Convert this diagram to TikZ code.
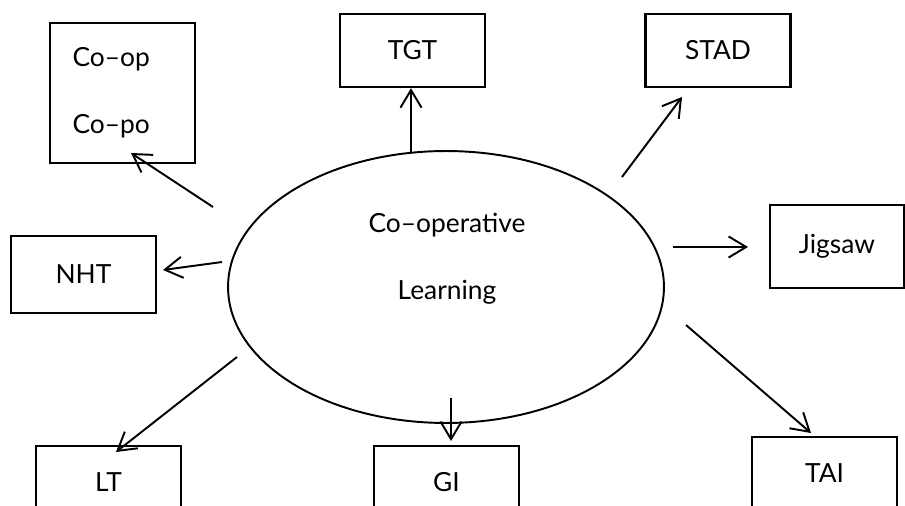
\documentclass[tikz,border=0pt]{standalone}
\usepackage{fontspec}
\setmainfont{Lato}
\usetikzlibrary{arrows.meta, shapes.geometric}

\begin{document}
\begin{tikzpicture}[
        x=0.02cm, y=-0.02cm,
        every node/.style={font=\fontsize{15}{18}\selectfont},
        box/.style={rectangle, draw, line width=1.4pt, minimum width=2.9cm, minimum height=1.46cm, inner sep=0pt, align=center},
        arr/.style={->, line width=1.1pt},
        >={Straight Barb[length=10pt, width=12pt]}
    ]
        \useasboundingbox (0,0) rectangle (905,506);
        \clip (0,0) rectangle (905,506);

        \node[ellipse, draw, line width=1.1pt, minimum width=8.72cm, minimum height=5.44cm, inner sep=0pt] (lrn) at (446,287) {};
        \node[align=center] (lrntxt) at (447,259) {Co–operative\\[20pt]Learning};

        \node[box, minimum height=2.8cm, text width=2cm, align=left] (copo) at (122.5,93) {Co–op\\[20pt]Co–po};
        \node[box] (tgt) at (412.5,50.5) {TGT};
        \node[box] (stad) at (718,50.5) {STAD};
        \node[box, minimum width=2.68cm, minimum height=1.66cm] (jig) at (837,246.5) {Jigsaw};
        \node[box, minimum height=1.54cm] (nht) at (83.5,274.5) {NHT};
        \node[box] (lt) at (108.5,482.5) {LT};
        \node[box] (gi) at (446.5,482.5) {GI};
        \node[box] (tai) at (824.5,473.5) {TAI};

        % free ends of the arrows
        \coordinate (copo-s) at (213,207);  \coordinate (copo-e) at (131,153);
        \coordinate (tgt-s) at (411,153);
        \coordinate (stad-s) at (622,177);  \coordinate (stad-e) at (682,97);
        \coordinate (jig-s) at (673,247);   \coordinate (jig-e) at (748,247);
        \coordinate (tai-s) at (686,325);   \coordinate (tai-e) at (811,433);
        \coordinate (gi-s) at (451,398);    \coordinate (gi-e) at (451,441);
        \coordinate (lt-s) at (237,357);    \coordinate (lt-e) at (116,452);
        \coordinate (nht-s) at (222,262);   \coordinate (nht-e) at (163,270);

        \draw[arr] (copo-s) -- (copo-e);
        \draw[arr] (tgt-s) -- (tgt-s |- tgt.south);
        \draw[arr] (stad-s) -- (stad-e);
        \draw[arr] (jig-s) -- (jig-e);
        \draw[arr] (tai-s) -- (tai-e);
        \draw[arr] (gi-s) -- (gi-e);
        \draw[arr] (lt-s) -- (lt-e);
        \draw[arr] (nht-s) -- (nht-e);

    \end{tikzpicture}
\end{document}
